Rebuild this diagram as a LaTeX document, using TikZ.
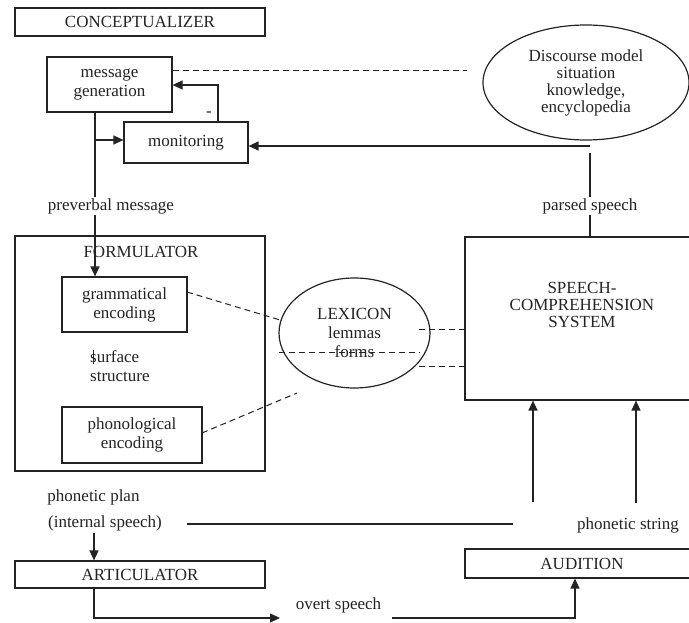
\documentclass[tikz,border=0pt]{standalone}
\usepackage{fontspec}
\setmainfont{Liberation Serif}
\usetikzlibrary{shapes.geometric,arrows.meta}
\definecolor{ink}{RGB}{35,35,35}
\begin{document}
\begin{tikzpicture}[x=1pt,y=-1pt,
  font=\fontsize{17}{17}\selectfont,
  every node/.style={text=ink},
  bx/.style={draw=ink, line width=1.2pt, rectangle, inner sep=0pt, align=center},
  ov/.style={draw=ink, line width=1.2pt, ellipse, inner sep=0pt, align=center},
  lbl/.style={inner sep=1pt, align=center},
  wide/.style={font=\fontsize{17}{19}\selectfont},
  ln/.style={draw=ink, line width=1.3pt},
  arr/.style={ln, -{Triangle[length=10pt,width=9pt]}},
  dsh/.style={draw=ink, line width=1pt, dash pattern=on 6pt off 4pt}]
\useasboundingbox (0,0) rectangle (689,623);
\clip (0,0) rectangle (689,623);

% boxes and ellipses
\node[bx, minimum width=250pt, minimum height=28pt] (concept) at (140,22) {CONCEPTUALIZER};
\node[bx, wide, minimum width=125pt, minimum height=55pt] (msg) at (109.5,84.5) {message\\generation};
\node[bx, minimum width=124pt, minimum height=41pt] (mon) at (186,142.5) {monitoring};
\node[ov, minimum width=206pt, minimum height=115pt] (disc) at (586,82.5) {Discourse model\\situation\\knowledge,\\encyclopedia};
\node[bx, minimum width=250pt, minimum height=235pt] (form) at (140,353.5) {};
\node[lbl] (formlbl) at (141,252) {FORMULATOR};
\node[bx, wide, minimum width=125pt, minimum height=55pt] (gram) at (124.5,304.5) {grammatical\\encoding};
\node[bx, wide, minimum width=140pt, minimum height=56pt] (phon) at (132,435) {phonological\\encoding};
\node[ov, wide, minimum width=151pt, minimum height=110pt] (lex) at (354.5,333) {LEXICON\\lemmas\\forms};
\node[bx, minimum width=234pt, minimum height=163pt] (scs) at (582,318.5) {};
\node[lbl] (scslbl) at (582,305) {SPEECH-\\COMPREHENSION\\SYSTEM};
\node[bx, minimum width=250pt, minimum height=27pt] (artic) at (140,574.5) {ARTICULATOR};
\node[bx, minimum width=234pt, minimum height=29pt] (aud) at (582,563.5) {AUDITION};

% helper coordinates
\coordinate (vx) at (95,140);
\coordinate (tx) at (218,85);
\coordinate (d1) at (467,71);
\coordinate (c1) at (590,146);
\coordinate (c2) at (590,153);
\coordinate (g1) at (187,292);
\coordinate (l1) at (280,320);
\coordinate (p1) at (202,433);
\coordinate (l2) at (297,393);
\coordinate (h1) at (279,352);
\coordinate (h2) at (420,352);
\coordinate (r1) at (419,329);
\coordinate (r2) at (419,366);
\coordinate (u1) at (533,502);
\coordinate (u2) at (636,503);
\coordinate (i1) at (187,524);
\coordinate (i2) at (513,524);
\coordinate (a1) at (94,533);
\coordinate (o1) at (94,618);
\coordinate (o2) at (280,618);
\coordinate (o3) at (392,618);
\coordinate (o4) at (575,618);
\coordinate (s1) at (93,350);
\coordinate (s2) at (93,364);

% connectors
\draw[arr] (msg.south -| vx) -- (gram.north -| vx);
\draw[arr] (vx) -- (vx -| mon.west);
\draw[arr] (mon.north -| tx) |- (msg.east |- tx);
\draw[dsh] (msg.east |- d1) -- (d1);
\draw[arr] (c1) -- (c1 -| mon.east);
\draw[ln] (c2) -- (scs.north -| c2);
\draw[dsh] (g1) -- (l1);
\draw[dsh] (p1) -- (l2);
\draw[dsh] (h1) -- (h2);
\draw[dsh] (r1) -- (scs.west |- r1);
\draw[dsh] (r2) -- (scs.west |- r2);
\draw[arr] (u1) -- (scs.south -| u1);
\draw[arr] (u2) -- (scs.south -| u2);
\draw[ln] (i1) -- (i2);
\draw[arr] (a1) -- (artic.north -| a1);
\draw[arr] (artic.south -| o1) |- (o2);
\draw[arr] (o3) -| (aud.south -| o4);
\draw[ln, line width=1pt] (s1) -- (s2);

% labels
\node[lbl, fill=white] (prev) at (111,206) {preverbal message};
\node[lbl, fill=white] (parsed) at (590,206) {parsed speech};
\node[lbl, wide, align=left, anchor=west] (surf) at (89,366) {surface\\structure};
\node[lbl] (pplan) at (93.5,497) {phonetic plan};
\node[lbl] (internal) at (105,523) {(internal speech)};
\node[lbl] (pstring) at (628,525) {phonetic string};
\node[lbl] (overt) at (338.5,605) {overt speech};
\node[lbl] (minus) at (209,114) {-};
\end{tikzpicture}
\end{document}
